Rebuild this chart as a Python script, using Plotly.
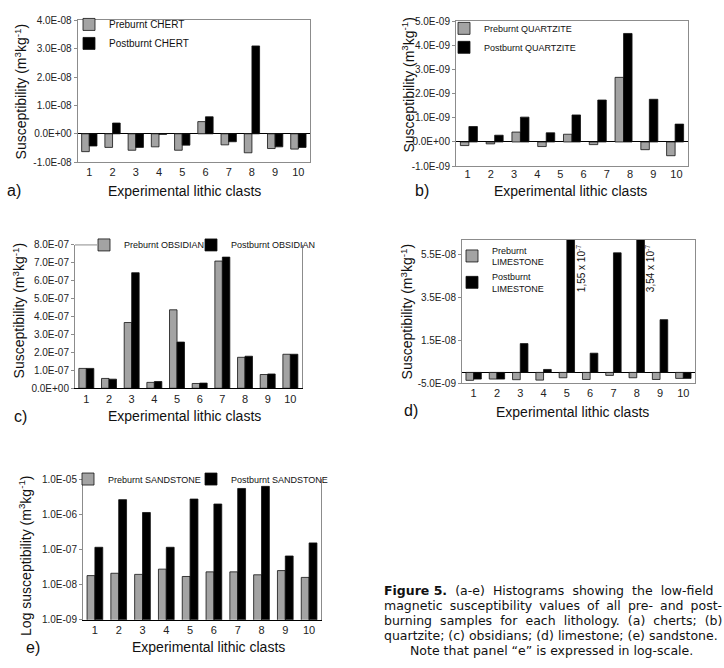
import plotly.graph_objects as go

W, H = 724, 668
FONT = "Liberation Sans, Arial, sans-serif"
GRAY = "#a3a3a3"
AX = "#8c8c8c"

# ---------------- data ----------------
clasts = ["1", "2", "3", "4", "5", "6", "7", "8", "9", "10"]

# (a) chert
pre_chert = [-6.3e-9, -4.8e-9, -5.8e-9, -4.6e-9, -5.8e-9, 4.3e-9, -3.9e-9, -6.7e-9, -5.2e-9, -5.4e-9]
post_chert = [-4.3e-9, 3.8e-9, -4.8e-9, -0.2e-9, -4.0e-9, 6.0e-9, -2.8e-9, 3.10e-8, -4.6e-9, -4.8e-9]
yticks_a = [-1e-8, 0, 1e-8, 2e-8, 3e-8, 4e-8]
yticktext_a = ["-1.0E-08", "0.0E+00", "1.0E-08", "2.0E-08", "3.0E-08", "4.0E-08"]

# (b) quartzite (nine bar pairs drawn under ten tick labels in the original)
pairs_b = ["p1", "p2", "p3", "p4", "p5", "p6", "p7", "p8", "p9"]
pre_quartzite = [-0.15e-9, -0.08e-9, 0.41e-9, -0.19e-9, 0.32e-9, -0.11e-9, 2.68e-9, -0.32e-9, -0.57e-9]
post_quartzite = [0.64e-9, 0.28e-9, 1.03e-9, 0.38e-9, 1.12e-9, 1.74e-9, 4.50e-9, 1.77e-9, 0.74e-9]
ticklabels_b = [1, 2, 3, 4, 5, 6, 7, 8, 9, 10]
yticks_b = [-1e-9, 0, 1e-9, 2e-9, 3e-9, 4e-9, 5e-9]
yticktext_b = ["-1.0E-09", "0.0E+00", "1.0E-09", "2.0E-09", "3.0E-09", "4.0E-09", "5.0E-09"]

# (c) obsidian
pre_obsidian = [1.11e-7, 0.55e-7, 3.67e-7, 0.33e-7, 4.38e-7, 0.27e-7, 7.10e-7, 1.73e-7, 0.77e-7, 1.90e-7]
post_obsidian = [1.11e-7, 0.51e-7, 6.45e-7, 0.38e-7, 2.58e-7, 0.29e-7, 7.32e-7, 1.79e-7, 0.80e-7, 1.90e-7]
yticks_c = [0, 1e-7, 2e-7, 3e-7, 4e-7, 5e-7, 6e-7, 7e-7, 8e-7]
yticktext_c = ["0.0E+00", "1.0E-07", "2.0E-07", "3.0E-07", "4.0E-07", "5.0E-07", "6.0E-07", "7.0E-07", "8.0E-07"]

# (d) limestone
pre_limestone = [-3.7e-9, -3.1e-9, -3.4e-9, -3.6e-9, -2.5e-9, -3.3e-9, -1.4e-9, -2.5e-9, -3.3e-9, -2.8e-9]
post_limestone = [-3.1e-9, -3.1e-9, 1.35e-8, 1.4e-9, 1.55e-7, 9.0e-9, 5.60e-8, 3.54e-7, 2.47e-8, -2.8e-9]
yticks_d = [-5e-9, 1.5e-8, 3.5e-8, 5.5e-8]
yticktext_d = ["-5.0E-09", "1.5E-08", "3.5E-08", "5.5E-08"]
clipped_labels_d = ["1,55 x 10<sup>-7</sup>", "3,54 x 10<sup>-7</sup>"]

# (e) sandstone (log scale)
pre_sandstone = [1.8e-8, 2.1e-8, 1.95e-8, 2.75e-8, 1.7e-8, 2.3e-8, 2.3e-8, 1.9e-8, 2.5e-8, 1.6e-8]
post_sandstone = [1.15e-7, 2.6e-6, 1.12e-6, 1.15e-7, 2.7e-6, 1.95e-6, 5.4e-6, 6.2e-6, 6.5e-8, 1.53e-7]
yticks_e = [1e-9, 1e-8, 1e-7, 1e-6, 1e-5]
yticktext_e = ["1.0E-09", "1.0E-08", "1.0E-07", "1.0E-06", "1.0E-05"]

caption_lines = [
    "<b>Figure 5.</b> (a-e) Histograms showing the low-field",
    "magnetic susceptibility values of all pre- and post-",
    "burning samples for each lithology. (a) cherts; (b)",
    "quartzite; (c) obsidians; (d) limestone; (e) sandstone.",
    "Note that panel \u201ce\u201d is expressed in log-scale.",
]
# extra inter-word space used to justify the first three caption lines
caption_pad = ["\u2004", "\u2005", "\u2004", "", ""]


def px(x):
    return x / W


def py(y):
    return 1 - y / H


fig = go.Figure()


def add_bar(xv, vals, name, color, xa, ya, leg):
    fig.add_trace(go.Bar(x=xv, y=vals, name=name, xaxis=xa, yaxis=ya, legend=leg,
                         marker=dict(color=color, line=dict(color="#111", width=0.8))))


add_bar(clasts, pre_chert, "Preburnt CHERT", GRAY, "x", "y", "legend")
add_bar(clasts, post_chert, "Postburnt CHERT", "black", "x", "y", "legend")
add_bar(pairs_b, pre_quartzite, "Preburnt QUARTZITE", GRAY, "x2", "y2", "legend2")
add_bar(pairs_b, post_quartzite, "Postburnt QUARTZITE", "black", "x2", "y2", "legend2")
fig.add_trace(go.Scatter(x=ticklabels_b, y=[None] * len(ticklabels_b), xaxis="x6", yaxis="y2",
                         mode="markers", showlegend=False, hoverinfo="skip"))
add_bar(clasts, pre_obsidian, "Preburnt OBSIDIAN", GRAY, "x3", "y3", "legend3")
add_bar(clasts, post_obsidian, "Postburnt OBSIDIAN", "black", "x3", "y3", "legend6")
add_bar(clasts, pre_limestone, "Preburnt<br>LIMESTONE", GRAY, "x4", "y4", "legend4")
add_bar(clasts, post_limestone, "Postburnt<br>LIMESTONE", "black", "x4", "y4", "legend4")
add_bar(clasts, pre_sandstone, "Preburnt SANDSTONE", GRAY, "x5", "y5", "legend5")
add_bar(clasts, post_sandstone, "Postburnt SANDSTONE", "black", "x5", "y5", "legend7")

tickfont = dict(family=FONT, size=10, color="#222")
xtickfont = dict(family=FONT, size=11, color="#222")


def xaxis(dom, anchor, **kw):
    d = dict(domain=dom, anchor=anchor, type="category", showgrid=False, ticks="",
             tickfont=xtickfont, showline=True, linecolor=AX, linewidth=1, mirror=True,
             fixedrange=True)
    d.update(kw)
    return d


def yaxis(dom, anchor, rng, tv, tt, **kw):
    d = dict(domain=dom, anchor=anchor, range=rng, tickvals=tv, ticktext=tt, showgrid=False,
             ticks="outside", ticklen=3, tickcolor=AX, tickfont=tickfont, showline=True,
             linecolor=AX, linewidth=1, mirror=True, zeroline=True, zerolinecolor="black",
             zerolinewidth=1, fixedrange=True)
    d.update(kw)
    return d


dom_a = ([px(77.7), px(310)], [py(159), py(14.7)])
dom_b = ([px(456), px(688)], [py(163), py(15.7)])
dom_c = ([px(75), px(301.7)], [py(389.3), py(243.3)])
dom_d = ([px(462), px(695)], [py(384), py(238.3)])
dom_e = ([px(83), px(321)], [py(625), py(481.7)])

legfont = dict(family=FONT, size=10, color="#111")
legfont_s = dict(family=FONT, size=9, color="#111")
clear = "rgba(255,255,255,0)"


def legend_at(x, y, font, yanchor="top"):
    return dict(x=px(x), y=py(y), xanchor="left", yanchor=yanchor, bgcolor=clear, font=font,
                tracegroupgap=0, itemclick=False, itemdoubleclick=False)


fig.update_layout(
    width=W, height=H, margin=dict(l=0, r=0, t=0, b=0),
    paper_bgcolor="white", plot_bgcolor="white",
    barmode="group", bargap=0.34, bargroupgap=0.0,
    font=dict(family=FONT, color="#111"),
    xaxis=xaxis(dom_a[0], "y"),
    yaxis=yaxis(dom_a[1], "x", [-1e-8, 4e-8], yticks_a, yticktext_a),
    xaxis2=xaxis(dom_b[0], "y2", showticklabels=False),
    xaxis6=xaxis(dom_b[0], "y2", overlaying="x2", type="linear", range=[0.5, 10.5],
                 tickvals=ticklabels_b, ticktext=[str(t) for t in ticklabels_b], mirror=False,
                 showline=False, zeroline=False),
    yaxis2=yaxis(dom_b[1], "x2", [-1e-9, 5e-9], yticks_b, yticktext_b),
    xaxis3=xaxis(dom_c[0], "y3", linecolor="black", mirror=False),
    yaxis3=yaxis(dom_c[1], "x3", [0, 8e-7], yticks_c, yticktext_c),
    xaxis4=xaxis(dom_d[0], "y4"),
    yaxis4=yaxis(dom_d[1], "x4", [-5e-9, 6.2e-8], yticks_d, yticktext_d),
    xaxis5=xaxis(dom_e[0], "y5", linecolor="black", mirror=False),
    yaxis5=yaxis(dom_e[1], "x5", [-9, -5], yticks_e, yticktext_e, type="log", zeroline=False),
    legend=legend_at(69, 4, legfont),
    legend2=legend_at(444, 8, legfont_s),
    legend3=legend_at(84, 243.3, legfont_s, "middle"),
    legend6=legend_at(191, 243.3, legfont_s, "middle"),
    legend4=legend_at(452, 236, legfont_s),
    legend5=legend_at(68, 481.7, legfont_s, "middle"),
    legend7=legend_at(191, 481.7, legfont_s, "middle"),
    shapes=[dict(type="line", xref="paper", yref="paper", x0=px(75), x1=px(97),
                 y0=py(243.3), y1=py(243.3), line=dict(color=AX, width=1))],
)

ann = []
title_font = dict(family=FONT, size=14, color="#111")
ytitle = "Susceptibility (m<sup>3</sup>kg<sup>-1</sup>)"
for cx, cy in [(184, 188), (570, 188), (184, 417), (572, 413), (208, 653)]:
    ann.append(dict(x=px(cx), y=py(cy), xref="paper", yref="paper", text="Experimental lithic clasts",
                    showarrow=False, font=title_font, xanchor="center", yanchor="middle"))
for cx, cy, t in [(21, 87, ytitle), (408, 80, ytitle), (19, 310, ytitle), (407, 311, ytitle),
                  (25, 560, "Log susceptibility (m<sup>3</sup>kg<sup>-1</sup>)")]:
    ann.append(dict(x=px(cx), y=py(cy), xref="paper", yref="paper", text=t, textangle=-90,
                    showarrow=False, font=title_font, xanchor="center", yanchor="middle"))
for lx, ly, t in [(5, 188, "a)"), (413, 188, "b)"), (12, 418, "c)"), (402, 412, "d)"), (24, 653, "e)")]:
    ann.append(dict(x=px(lx), y=py(ly), xref="paper", yref="paper", text=t, showarrow=False,
                    font=dict(family=FONT, size=16, color="#111"), xanchor="left", yanchor="middle"))
for (lx, t) in zip([581, 650], clipped_labels_d):
    ann.append(dict(x=px(lx), y=py(268), xref="paper", yref="paper", text=t, textangle=-90,
                    showarrow=False, font=dict(family=FONT, size=10, color="#111"),
                    xanchor="center", yanchor="middle"))

cap_font = dict(family="DejaVu Sans, Verdana, sans-serif", size=12.5, color="#111")
for i, (line, pad) in enumerate(zip(caption_lines, caption_pad)):
    yy = 595 + i * 15.3
    txt = line.replace(" ", " " + pad) if pad else line
    txt = txt.replace("<b>Figure " + pad, "<b>Figure ")
    if i < 4:
        ann.append(dict(x=px(382), y=py(yy), xref="paper", yref="paper", text=txt, showarrow=False,
                        font=cap_font, xanchor="left", yanchor="middle"))
    else:
        ann.append(dict(x=px(551), y=py(yy), xref="paper", yref="paper", text=txt, showarrow=False,
                        font=cap_font, xanchor="center", yanchor="middle"))

fig.update_layout(annotations=ann)
fig.write_html("out.html", config={"displayModeBar": False},
               post_script="document.body.style.margin='0px';")
